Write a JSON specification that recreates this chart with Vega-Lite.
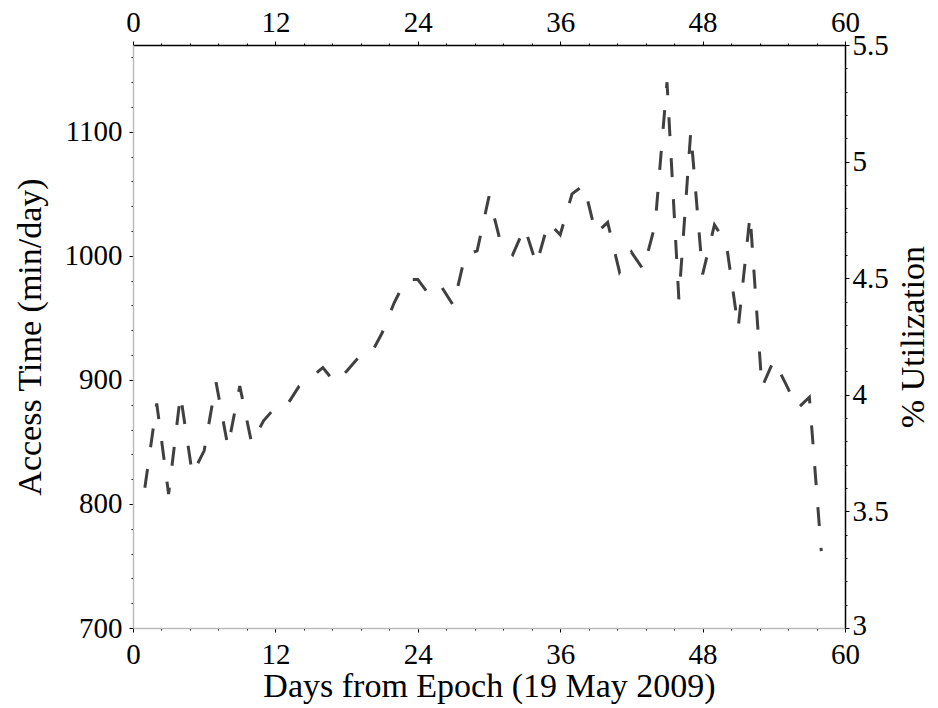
{
  "$schema": "https://vega.github.io/schema/vega-lite/v6.json",
  "width": 712,
  "height": 583,
  "autosize": {"type": "none"},
  "padding": {"left": 133, "top": 45, "right": 93, "bottom": 80},
  "background": "white",
  "config": {
    "view": {"stroke": null},
    "font": "Liberation Serif",
    "axis": {
      "labelFont": "Liberation Serif",
      "titleFont": "Liberation Serif",
      "labelFontSize": 29,
      "titleFontSize": 34,
      "titleFontWeight": "normal",
      "labelColor": "black",
      "titleColor": "black",
      "tickColor": "black",
      "grid": false,
      "labelFlush": false,
      "labelOverlap": false
    }
  },
  "datasets": {
    "series": [
      {"day": 1, "access": 813}, {"day": 2, "access": 881}, {"day": 3, "access": 808},
      {"day": 4, "access": 888}, {"day": 5, "access": 824}, {"day": 6, "access": 843},
      {"day": 7, "access": 898}, {"day": 8, "access": 846}, {"day": 9, "access": 895},
      {"day": 10, "access": 849}, {"day": 11, "access": 867}, {"day": 12, "access": 878},
      {"day": 13, "access": 880}, {"day": 14, "access": 895}, {"day": 15, "access": 902},
      {"day": 16, "access": 910}, {"day": 17, "access": 898}, {"day": 18, "access": 907},
      {"day": 19, "access": 918}, {"day": 20, "access": 920}, {"day": 21, "access": 938},
      {"day": 22, "access": 962}, {"day": 23, "access": 981}, {"day": 24, "access": 981},
      {"day": 25, "access": 968}, {"day": 26, "access": 975}, {"day": 27, "access": 960},
      {"day": 28, "access": 1001}, {"day": 29, "access": 1004}, {"day": 30, "access": 1048},
      {"day": 31, "access": 1010}, {"day": 32, "access": 1001}, {"day": 33, "access": 1023},
      {"day": 34, "access": 993}, {"day": 35, "access": 1027}, {"day": 36, "access": 1017},
      {"day": 37, "access": 1050}, {"day": 38, "access": 1057}, {"day": 39, "access": 1018},
      {"day": 40, "access": 1027}, {"day": 41, "access": 987}, {"day": 42, "access": 1003},
      {"day": 43, "access": 989}, {"day": 44, "access": 1025}, {"day": 45, "access": 1140},
      {"day": 46, "access": 965}, {"day": 47, "access": 1100}, {"day": 48, "access": 985},
      {"day": 49, "access": 1025}, {"day": 50, "access": 1010}, {"day": 51, "access": 942},
      {"day": 52, "access": 1033}, {"day": 53, "access": 894}, {"day": 54, "access": 916},
      {"day": 55, "access": 897}, {"day": 56, "access": 877}, {"day": 57, "access": 886},
      {"day": 58, "access": 762}
    ],
    "frame": [
      {"day": 0, "util": 3},
      {"day": 60, "util": 5.5}
    ]
  },
  "layer": [
    {
      "data": {"name": "series"},
      "mark": {"type": "line", "color": "#404040", "strokeWidth": 3, "strokeDash": [19, 22], "strokeCap": "butt", "clip": true},
      "encoding": {
        "x": {
          "field": "day", "type": "quantitative",
          "scale": {"domain": [0, 60], "nice": false, "zero": false},
          "axis": {
            "orient": "bottom",
            "title": "Days from Epoch (19 May 2009)",
            "values": [0, 2.4, 4.8, 7.2, 9.6, 12, 14.4, 16.8, 19.2, 21.6, 24, 26.4, 28.8, 31.2, 33.6, 36, 38.4, 40.8, 43.2, 45.6, 48, 50.4, 52.8, 55.2, 57.6, 60],
            "labelExpr": "datum.value % 12 === 0 ? datum.label : ''",
            "tickSize": {"condition": {"test": "datum.value % 12 === 0", "value": 4}, "value": 2},
            "labelPadding": {"condition": {"test": "datum.value % 12 === 0", "value": 8}, "value": 10},
            "domainColor": "#bbbbbb",
            "domainWidth": 1.5,
            "titlePadding": 0
          }
        },
        "y": {
          "field": "access", "type": "quantitative",
          "scale": {"domain": [700, 1170], "nice": false, "zero": false},
          "axis": {
            "orient": "left",
            "title": "Access Time (min/day)",
            "values": [700, 720, 740, 760, 780, 800, 820, 840, 860, 880, 900, 920, 940, 960, 980, 1000, 1020, 1040, 1060, 1080, 1100, 1120, 1140, 1160],
            "format": "d",
            "labelExpr": "datum.value % 100 === 0 ? datum.label : ''",
            "tickSize": {"condition": {"test": "datum.value % 100 === 0", "value": 4}, "value": 2},
            "labelPadding": {"condition": {"test": "datum.value % 100 === 0", "value": 7}, "value": 9},
            "domainColor": "#bbbbbb",
            "domainWidth": 1.5,
            "titlePadding": 17
          }
        }
      }
    },
    {
      "data": {"name": "frame"},
      "mark": {"type": "point", "opacity": 0},
      "encoding": {
        "x": {
          "field": "day", "type": "quantitative",
          "scale": {"domain": [0, 60], "nice": false, "zero": false},
          "axis": {
            "orient": "top",
            "title": null,
            "values": [0, 2.4, 4.8, 7.2, 9.6, 12, 14.4, 16.8, 19.2, 21.6, 24, 26.4, 28.8, 31.2, 33.6, 36, 38.4, 40.8, 43.2, 45.6, 48, 50.4, 52.8, 55.2, 57.6, 60],
            "labelExpr": "datum.value % 12 === 0 ? datum.label : ''",
            "tickSize": {"condition": {"test": "datum.value % 12 === 0", "value": 4}, "value": 2},
            "labelPadding": {"condition": {"test": "datum.value % 12 === 0", "value": 4}, "value": 6},
            "domainColor": "black",
            "domainWidth": 1.5
          }
        },
        "y": {
          "field": "util", "type": "quantitative",
          "scale": {"domain": [3, 5.5], "nice": false, "zero": false},
          "axis": {
            "orient": "right",
            "title": "% Utilization",
            "titleAngle": 270,
            "titleBaseline": "top",
            "format": "~g",
            "values": [3, 3.1, 3.2, 3.3, 3.4, 3.5, 3.6, 3.7, 3.8, 3.9, 4, 4.1, 4.2, 4.3, 4.4, 4.5, 4.6, 4.7, 4.8, 4.9, 5, 5.1, 5.2, 5.3, 5.4, 5.5],
            "labelExpr": "abs(datum.value * 2 - round(datum.value * 2)) < 1e-6 ? datum.label : ''",
            "tickSize": {"condition": {"test": "abs(datum.value * 2 - round(datum.value * 2)) < 1e-6", "value": 4}, "value": 2},
            "labelPadding": {"condition": {"test": "abs(datum.value * 2 - round(datum.value * 2)) < 1e-6", "value": 3}, "value": 5},
            "labelOffset": {"condition": {"test": "datum.value === 3", "value": -3}, "value": 0},
            "domainColor": "black",
            "domainWidth": 1.5,
            "titlePadding": 8
          }
        }
      }
    }
  ],
  "resolve": {"scale": {"y": "independent"}, "axis": {"x": "independent", "y": "independent"}}
}
